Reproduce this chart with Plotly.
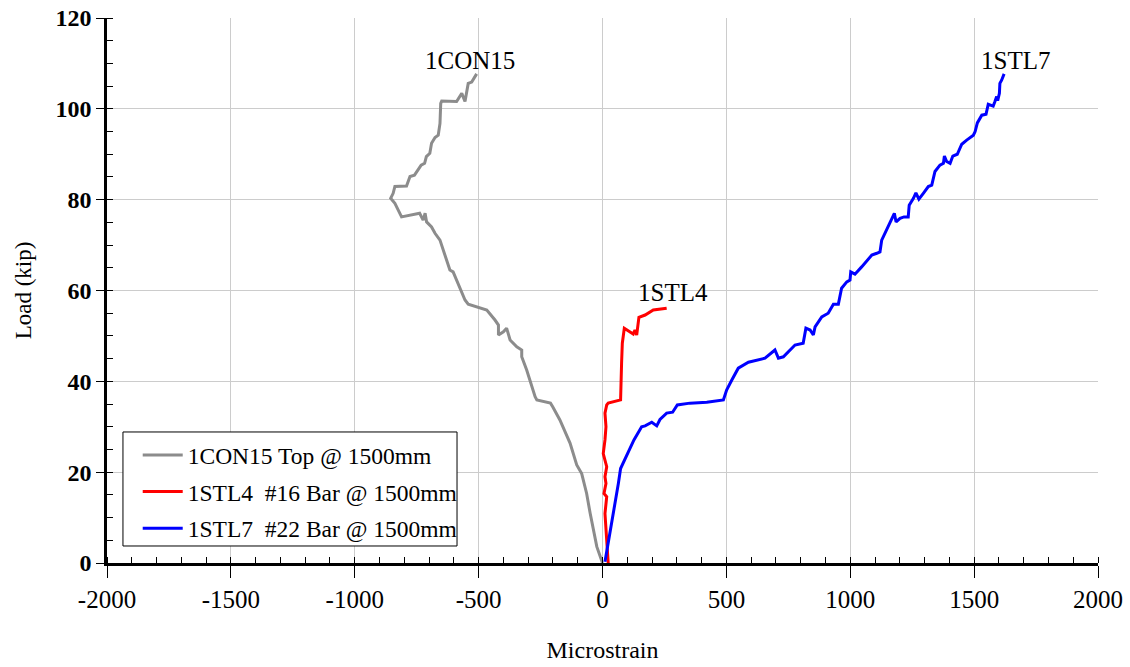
import plotly.graph_objects as go

# Load vs. strain readings at the 1500 mm station
con15_strain = [0, -23, -50, -64, -84, -104, -131, -172, -201, -210, -265, -272, -306, -326, -326,
                -346, -373, -387, -400, -420, -420, -434, -467, -508, -542, -555, -575, -589, -603,
                -616, -629, -649, -656, -676, -690, -710, -716, -724, -738, -811, -838, -855, -845,
                -838, -791, -777, -759, -732, -718, -711, -697, -690, -676, -663, -656, -653, -649,
                -589, -568, -555, -548, -542, -528, -515, -508]
con15_load = [0, 3.6, 11, 15.3, 19.7, 21.6, 26.4, 31.5, 34.4, 35.2, 35.9, 36.6, 42.5, 45.4, 46.9,
              47.6, 49.1, 51.7, 50.9, 50.2, 52.4, 53.5, 55.7, 56.4, 57, 57.9, 60.5, 62.3, 64.1,
              64.5, 66.7, 69.6, 71.1, 72.6, 74, 75.1, 77, 75.5, 77, 76.2, 79.2, 80.3, 81.4,
              82.9, 83, 85.1, 85.4, 87.6, 88, 89.5, 90.2, 92.4, 93.7, 94.2, 96.8, 101.2, 101.7,
              101.6, 103.4, 101.6, 104.1, 105.6, 105.9, 107, 107.7]

stl4_strain = [23, 19, 14, 10, 17, 6, 14, 10, 17, 6, 3, 10, 14, 10, 17, 23, 73, 77, 80, 88,
               111, 124, 131, 138, 147, 172, 205, 259]
stl4_load = [0, 4.3, 8, 10.9, 14.6, 15.3, 17.5, 19, 21.2, 23.4, 24.1, 27.1, 30, 33, 34.8, 35.2,
             35.9, 44, 48.4, 51.7, 50.9, 50.4, 51.3, 50.2, 54.1, 54.6, 55.7, 56.1]

stl7_strain = [10, 23, 33, 44, 54, 64, 73, 91, 111, 127, 158, 172, 199, 219, 232, 259, 283, 302,
               353, 421, 488, 501, 522, 548, 589, 656, 696, 710, 730, 777, 810, 821, 838, 851,
               858, 885, 911, 932, 952, 965, 986, 999, 1002, 1019, 1046, 1087, 1107, 1120, 1127,
               1140, 1154, 1178, 1185, 1201, 1217, 1234, 1238, 1255, 1265, 1277, 1295, 1315,
               1329, 1342, 1362, 1376, 1380, 1389, 1403, 1414, 1432, 1450, 1470, 1497, 1504,
               1513, 1531, 1548, 1557, 1577, 1584, 1591, 1595, 1602, 1604, 1611, 1621]
stl7_load = [0.3, 4.3, 8, 10.9, 14.6, 17.5, 20.8, 23, 25.2, 27.1, 30, 30.2, 31, 30.2, 31.6, 33,
             33.2, 34.8, 35.2, 35.4, 35.9, 38.1, 40.3, 42.9, 44.2, 45.1, 46.9, 45.1, 45.4, 48,
             48.4, 51.7, 51.3, 50.2, 52, 54.2, 55, 57, 57, 60.5, 61.9, 62.3, 64.1, 63.6, 65.2,
             67.8, 68.2, 68.5, 71.1, 72.6, 74.4, 77, 75.1, 75.9, 76.2, 76.2, 78.8, 80.3, 81.5,
             80.1, 81.4, 82.9, 83.2, 86.2, 87.6, 88, 89.6, 88.4, 88, 89.6, 90, 92.2, 93.1, 94.2,
             95, 96.9, 98.6, 98.8, 101, 100.6, 101.6, 102.7, 101.8, 103.4, 105.6, 106.3, 107.7]

series_names = ["1CON15 Top @ 1500mm", "1STL4  #16 Bar @ 1500mm", "1STL7  #22 Bar @ 1500mm"]
series_colors = ["#8c8c8c", "#ff0000", "#0000ff"]

curve_labels = ["1CON15", "1STL4", "1STL7"]
label_x = [-535, 285, 1665]
label_y = [110.6, 59.6, 110.6]

x_ticks = [-2000, -1500, -1000, -500, 0, 500, 1000, 1500, 2000]
x_tick_text = ["-2000", "-1500", "-1000", "-500", "0", "500", "1000", "1500", "2000"]
y_ticks = [0, 20, 40, 60, 80, 100, 120]

SERIF = "Liberation Serif"

fig = go.Figure()
for i, (xs, ys, name, color) in enumerate(zip([con15_strain, stl4_strain, stl7_strain],
                                              [con15_load, stl4_load, stl7_load],
                                              series_names, series_colors)):
    fig.add_trace(go.Scatter(x=xs, y=ys, mode="lines", name=name, legendgroup=f"g{i}",
                             line=dict(color=color, width=3)))

for text, lx, ly in zip(curve_labels, label_x, label_y):
    fig.add_annotation(x=lx, y=ly, text=text, showarrow=False,
                       font=dict(family=SERIF, size=25, color="black"))

# legend frame
fig.add_shape(type="rect", xref="paper", yref="paper",
              x0=0.0161, x1=0.3532, y0=0.0312, y1=0.2404,
              line=dict(color="black", width=1), fillcolor="white", layer="above")

fig.update_layout(
    width=1130, height=667,
    margin=dict(l=107, r=32, t=18, b=104),
    paper_bgcolor="white", plot_bgcolor="white",
    font=dict(family=SERIF, color="black"),
    showlegend=True,
    legend=dict(x=0.031, y=0.238, xanchor="left", yanchor="top",
                bgcolor="rgba(0,0,0,0)", borderwidth=0,
                font=dict(family=SERIF, size=23.5, color="black"),
                itemwidth=40, tracegroupgap=3),
)

fig.update_xaxes(
    range=[-2000, 2000], tickvals=x_ticks, ticktext=x_tick_text, automargin=False,
    showgrid=True, gridcolor="#cccccc", gridwidth=1,
    zeroline=False, showline=True, linecolor="black", linewidth=3,
    ticks="outside", ticklen=12, tickwidth=1, tickcolor="black",
    tickfont=dict(family=SERIF, size=25),
    minor=dict(dtick=100, ticks="inside", ticklen=6, tickcolor="black", showgrid=False),
    title=dict(text="Microstrain", font=dict(family=SERIF, size=24), standoff=30),
)
fig.update_yaxes(
    range=[0, 120], tickvals=y_ticks, automargin=False,
    showgrid=True, gridcolor="#cccccc", gridwidth=1,
    zeroline=False, showline=True, linecolor="black", linewidth=2.5,
    ticks="outside", ticklen=8, tickwidth=1, tickcolor="black",
    tickfont=dict(family=SERIF, size=24, weight="bold"),
    minor=dict(dtick=5, ticks="inside", ticklen=6, tickcolor="black", showgrid=False),
    title=dict(text="Load (kip)", font=dict(family=SERIF, size=23), standoff=18),
)

fig.write_html("out.html")
